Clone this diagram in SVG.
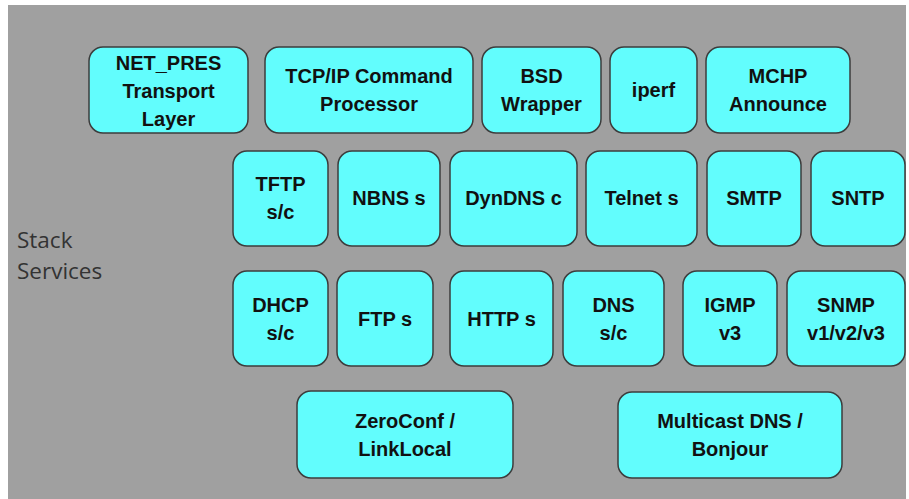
<svg xmlns="http://www.w3.org/2000/svg" width="909" height="499" viewBox="0 0 909 499">
<style>
.bx{fill:#62fdfd;stroke:#3c3c3c;stroke-width:1.5}
.t{font-family:"Liberation Sans",Arial,sans-serif;font-weight:bold;font-size:20px;fill:#111;text-anchor:middle}
.lbl{font-family:"Open Sans","Liberation Sans",sans-serif;font-size:22.5px;fill:#333}
</style>
<rect x="0" y="0" width="909" height="499" fill="#ffffff"/>
<rect x="8" y="5" width="898" height="494" fill="#a0a0a0"/>
<g id="label"><text class="lbl" x="17" y="248">Stack</text><text class="lbl" x="17" y="279">Services</text></g>
<g id="connectors"></g>
<g id="net_pres"><rect class="bx" x="89" y="47" width="159" height="86" rx="14"/><text class="t" x="168.5" y="70">NET_PRES</text><text class="t" x="168.5" y="98">Transport</text><text class="t" x="168.5" y="126">Layer</text></g>
<g id="tcpip"><rect class="bx" x="265" y="47" width="208" height="86" rx="14"/><text class="t" x="369" y="83">TCP/IP Command</text><text class="t" x="369" y="111">Processor</text></g>
<g id="bsd"><rect class="bx" x="482" y="47" width="119" height="86" rx="14"/><text class="t" x="541.5" y="83">BSD</text><text class="t" x="541.5" y="111">Wrapper</text></g>
<g id="iperf"><rect class="bx" x="610" y="47" width="87" height="86" rx="14"/><text class="t" x="653.5" y="97">iperf</text></g>
<g id="mchp"><rect class="bx" x="706" y="47" width="144" height="86" rx="14"/><text class="t" x="778" y="83">MCHP</text><text class="t" x="778" y="111">Announce</text></g>
<g id="tftp"><rect class="bx" x="233" y="151" width="95" height="95" rx="14"/><text class="t" x="280.5" y="191">TFTP</text><text class="t" x="280.5" y="219">s/c</text></g>
<g id="nbns"><rect class="bx" x="338" y="151" width="102" height="95" rx="14"/><text class="t" x="389" y="205">NBNS s</text></g>
<g id="dyndns"><rect class="bx" x="450" y="151" width="127" height="95" rx="14"/><text class="t" x="513.5" y="205">DynDNS c</text></g>
<g id="telnet"><rect class="bx" x="586" y="151" width="111" height="95" rx="14"/><text class="t" x="641.5" y="205">Telnet s</text></g>
<g id="smtp"><rect class="bx" x="707" y="151" width="94" height="95" rx="14"/><text class="t" x="754" y="205">SMTP</text></g>
<g id="sntp"><rect class="bx" x="811" y="151" width="94" height="95" rx="14"/><text class="t" x="858" y="205">SNTP</text></g>
<g id="dhcp"><rect class="bx" x="233" y="271" width="95" height="95" rx="14"/><text class="t" x="280.5" y="312">DHCP</text><text class="t" x="280.5" y="340">s/c</text></g>
<g id="ftp"><rect class="bx" x="337" y="271" width="96" height="95" rx="14"/><text class="t" x="385" y="326">FTP s</text></g>
<g id="http"><rect class="bx" x="450" y="271" width="103" height="95" rx="14"/><text class="t" x="501.5" y="326">HTTP s</text></g>
<g id="dns"><rect class="bx" x="563" y="271" width="101" height="95" rx="14"/><text class="t" x="613.5" y="312">DNS</text><text class="t" x="613.5" y="340">s/c</text></g>
<g id="igmp"><rect class="bx" x="683" y="271" width="94" height="95" rx="14"/><text class="t" x="730" y="312">IGMP</text><text class="t" x="730" y="340">v3</text></g>
<g id="snmp"><rect class="bx" x="787" y="271" width="118" height="95" rx="14"/><text class="t" x="846" y="312">SNMP</text><text class="t" x="846" y="340">v1/v2/v3</text></g>
<g id="zeroconf"><rect class="bx" x="297" y="391" width="216" height="87" rx="14"/><text class="t" x="405" y="428">ZeroConf /</text><text class="t" x="405" y="456">LinkLocal</text></g>
<g id="mdns"><rect class="bx" x="618" y="392" width="224" height="86" rx="14"/><text class="t" x="730" y="428">Multicast DNS /</text><text class="t" x="730" y="456">Bonjour</text></g>
</svg>
